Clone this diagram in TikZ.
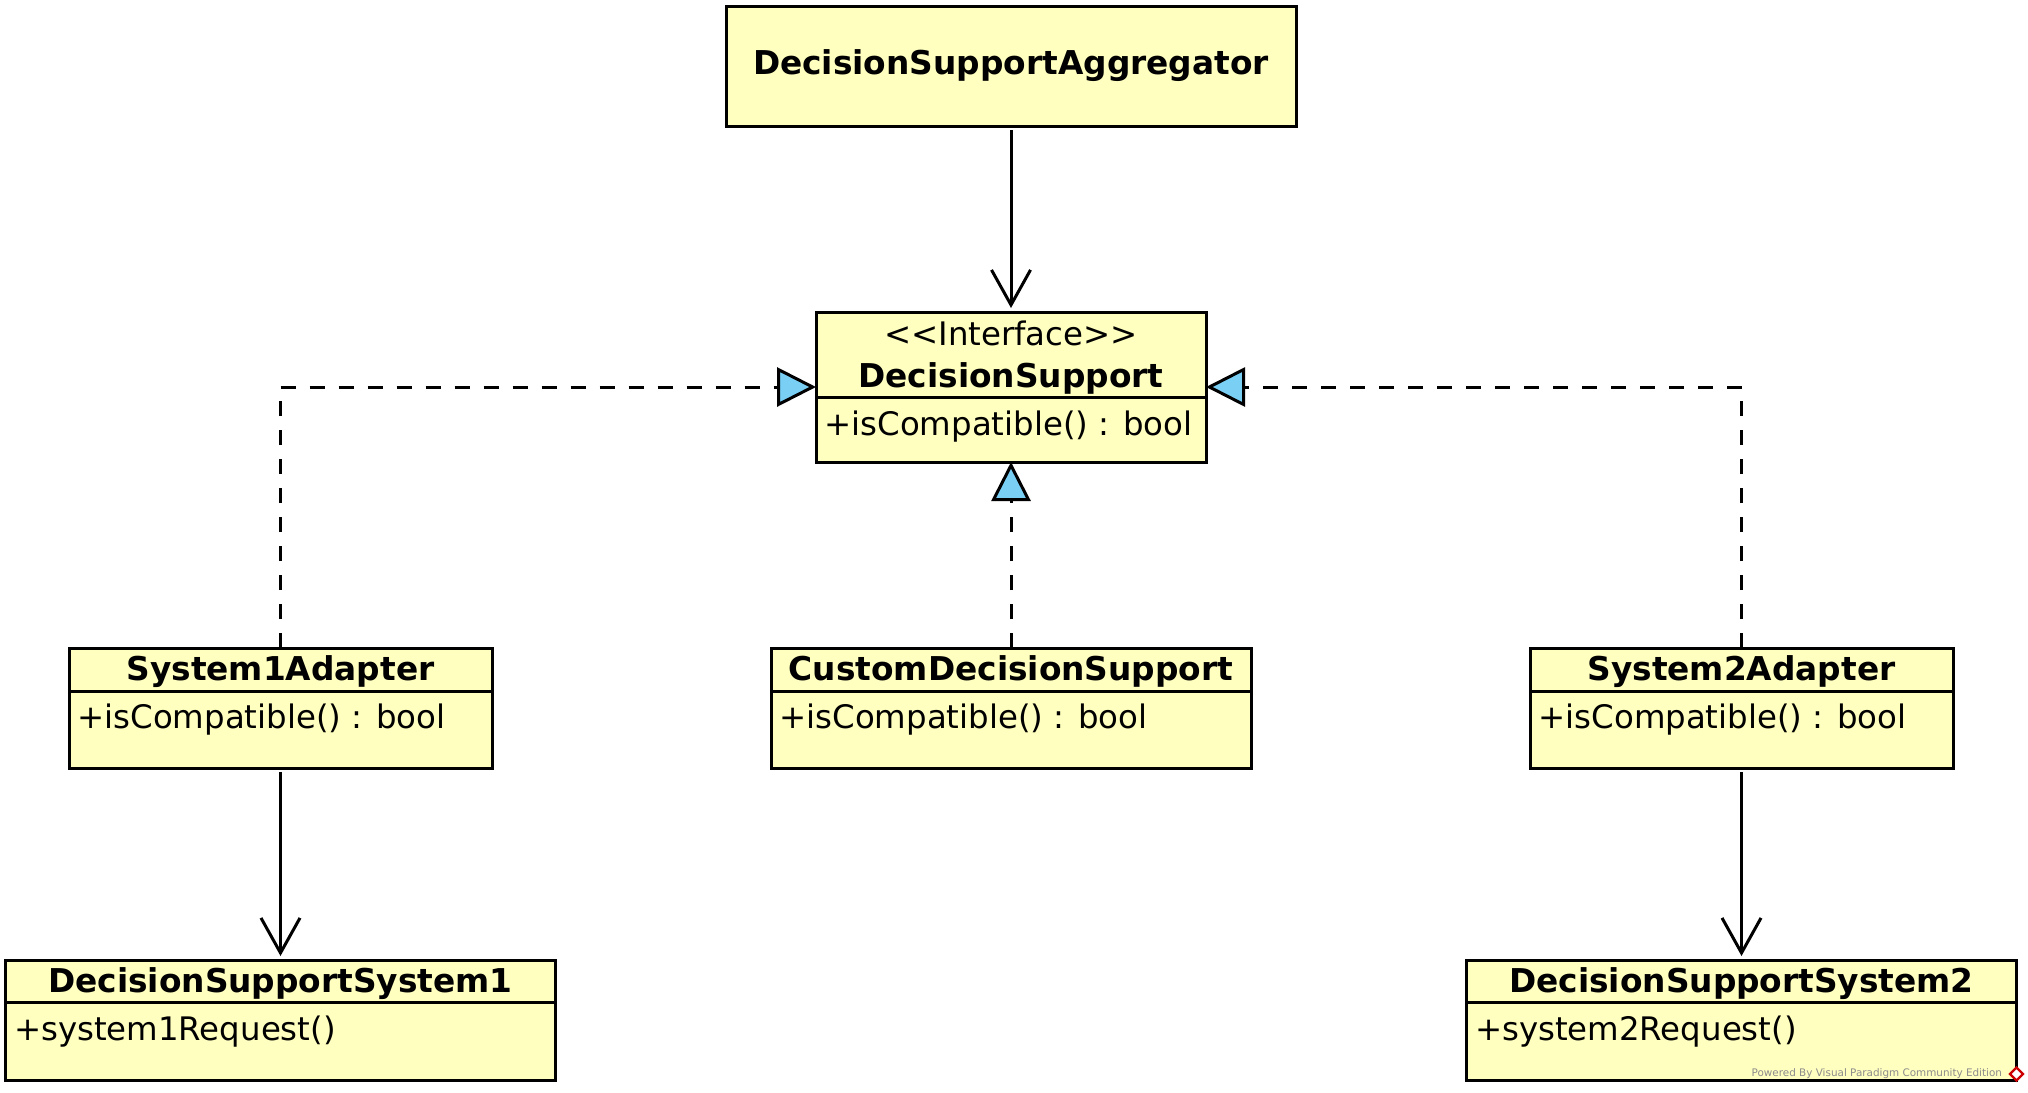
\documentclass[tikz,border=0pt]{standalone}
\usepackage{fontspec}
\setmainfont{DejaVu Sans}[Ligatures=TeXOff]
\usetikzlibrary{arrows.meta,positioning,shapes.geometric}

\definecolor{clsfill}{HTML}{FFFFC0}
\definecolor{realfill}{HTML}{7ACFF5}

\begin{document}
\begin{tikzpicture}[%
	x=0.5pt, y=-0.5pt,           % one unit is one pixel of the layout
	every node/.style={font=\fontsize{16.2}{19.5}\selectfont},
	line width=1.5pt,
	node distance=93pt and 139.5pt, % gaps between the class boxes
	]
	% -------------------------------------------------
	% Box and connector styles
	\tikzset{
		box/.style={draw, fill=clsfill, rectangle, inner sep=0pt, outer sep=0pt, minimum height=60pt},
		clsname/.style={anchor=base, inner sep=0pt, font=\fontsize{16.4}{19.7}\selectfont\bfseries},
		clsattr/.style={anchor=base west, inner sep=0pt},
		% -------------------------------------------------
		% plain association and interface realization
		assoc/.style={draw, -{Straight Barb[length=17.5pt, width=19.5pt]}, shorten <=2pt, shorten >=2pt},
		realize/.style={draw, dash pattern=on 7.5pt off 7pt, -{Triangle[length=19.5pt, width=19.5pt, fill=realfill]}},
		vpnote/.style={inner sep=0pt, text=black!45, font=\fontsize{5.2}{6}\selectfont}
	}
	\useasboundingbox (0,0) rectangle (2028,1092);

	\node[box, minimum width=285pt, font=\fontsize{16.4}{19.7}\selectfont\bfseries] (agg) at (1011,66) {DecisionSupportAggregator};

	\node[box, below=of agg, minimum width=195pt, minimum height=75pt] (ds) {};
	\node[clsname, font=\fontsize{16.2}{19.5}\selectfont] (dsst) at ([yshift=-16.5pt]ds.north) {<<Interface>>};
	\node[clsname] (dsn) at ([yshift=-37.5pt]ds.north) {DecisionSupport};
	\draw ([yshift=-42.5pt]ds.north west) -- ([yshift=-42.5pt]ds.north east);
	\node[clsattr] (dsa) at ([xshift=3.5pt, yshift=-61.5pt]ds.north west) {+isCompatible() : bool};

	\node[box, below=of ds, minimum width=240pt] (cd) {};
	\node[clsname] (cdn) at ([yshift=-16pt]cd.north) {CustomDecisionSupport};
	\draw ([yshift=-21.5pt]cd.north west) -- ([yshift=-21.5pt]cd.north east);
	\node[clsattr] (cda) at ([xshift=3.5pt, yshift=-40pt]cd.north west) {+isCompatible() : bool};

	\node[box, left=of cd, minimum width=211.5pt] (s1) {};
	\node[clsname] (s1n) at ([yshift=-16pt]s1.north) {System1Adapter};
	\draw ([yshift=-21.5pt]s1.north west) -- ([yshift=-21.5pt]s1.north east);
	\node[clsattr] (s1a) at ([xshift=3.5pt, yshift=-40pt]s1.north west) {+isCompatible() : bool};

	\node[box, right=of cd, minimum width=211.5pt] (s2) {};
	\node[clsname] (s2n) at ([yshift=-16pt]s2.north) {System2Adapter};
	\draw ([yshift=-21.5pt]s2.north west) -- ([yshift=-21.5pt]s2.north east);
	\node[clsattr] (s2a) at ([xshift=3.5pt, yshift=-40pt]s2.north west) {+isCompatible() : bool};

	\node[box, below=96pt of s1, minimum width=275pt] (d1) {};
	\node[clsname] (d1n) at ([yshift=-16pt]d1.north) {DecisionSupportSystem1};
	\draw ([yshift=-21pt]d1.north west) -- ([yshift=-21pt]d1.north east);
	\node[clsattr] (d1a) at ([xshift=3.5pt, yshift=-40pt]d1.north west) {+system1Request()};

	\node[box, below=96pt of s2, minimum width=275pt] (d2) {};
	\node[clsname] (d2n) at ([yshift=-16pt]d2.north) {DecisionSupportSystem2};
	\draw ([yshift=-21pt]d2.north west) -- ([yshift=-21pt]d2.north east);
	\node[clsattr] (d2a) at ([xshift=3.5pt, yshift=-40pt]d2.north west) {+system2Request()};

	% watermark in the corner
	\node[vpnote, anchor=base east] (vp) at ([xshift=-6.5pt, yshift=2pt]d2.south east) {Powered By Visual Paradigm Community Edition};
	\node[diamond, draw=red!80!black, line width=1.2pt, fill=white, inner sep=0pt, minimum size=7pt] (vplogo) at ([yshift=3pt]d2.south east) {};

	\draw[assoc] (agg) -- (ds);
	\draw[assoc] (s1) -- (d1);
	\draw[assoc] (s2) -- (d2);

	\draw[realize] (s1) |- (ds);
	\draw[realize] (s2) |- (ds);
	\draw[realize] (cd) -- (ds);

\end{tikzpicture}
\end{document}
